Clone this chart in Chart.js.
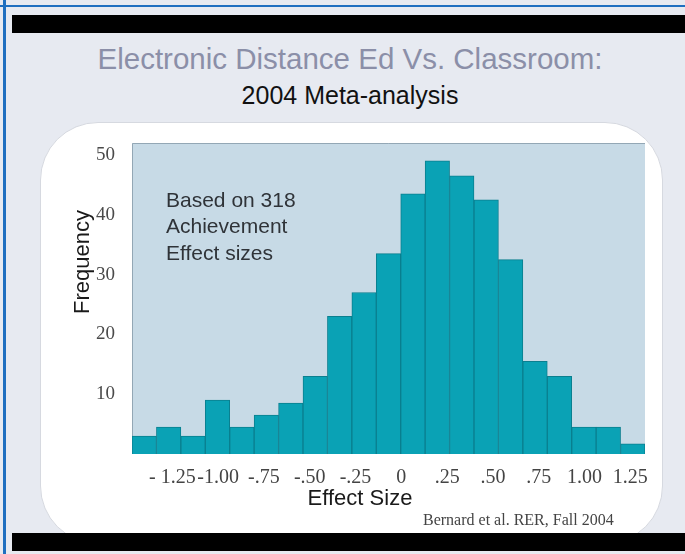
<!DOCTYPE html>
<html>
<head>
<meta charset="utf-8">
<script src="https://cdn.jsdelivr.net/npm/chart.js@4"></script>
<style>
  html, body { margin: 0; padding: 0; }
  body { width: 685px; height: 554px; background: #e7eaf1; position: relative; overflow: hidden; font-family: "Liberation Sans", Arial, sans-serif; }
  .edge-left { position: absolute; left: 3px; top: 0; width: 3px; height: 554px; background: #1f6fc0; }
  .edge-top { position: absolute; left: 0; top: 5px; width: 685px; height: 2px; background: #1f6fc0; }
  .black { position: absolute; left: 12px; width: 673px; height: 18px; background: #000; }
  .title1 { position: absolute; left: 0; width: 700px; top: 42px; text-align: center; font-size: 29.5px; color: #8b8fa8; line-height: 34px; }
  .title2 { position: absolute; left: 0; width: 700px; top: 79px; text-align: center; font-size: 25px; color: #111; line-height: 32px; }
  .card { position: absolute; left: 40px; top: 122px; width: 621px; height: 420px; background: #fff; border: 1px solid #d6d9e0; border-radius: 58px; }
  #chart { position: absolute; left: 0; top: 0; }
</style>
</head>
<body>
<div class="edge-left"></div>
<div class="edge-top"></div>
<div class="black" style="top:15px"></div>
<div class="title1">Electronic Distance Ed Vs. Classroom:</div>
<div class="title2">2004 Meta-analysis</div>
<div class="card"></div>
<div class="black" style="top:533px"></div>
<canvas id="chart" width="685" height="554"></canvas>
<script>
// histogram bins (21 bars)
const bins = ['1','2','3','4','5','6','7','8','9','10','11','12','13','14','15','16','17','18','19','20','21'];
const frequency = [3, 4.5, 3, 9, 4.5, 6.5, 8.5, 13, 23, 27, 33.5, 43.5, 49, 46.5, 42.5, 32.5, 15.5, 13, 4.5, 4.5, 1.7];

// effect size axis
const xTickValues = [-1.25, -1.00, -0.75, -0.50, -0.25, 0, 0.25, 0.50, 0.75, 1.00, 1.25];
const xTickLabels = ['- 1.25', '-1.00', '-.75', '-.50', '-.25', '0', '.25', '.50', '.75', '1.00', '1.25'];
const yTickValues = [10, 20, 30, 40, 50];

const noteLines = ['Based on 318', 'Achievement', 'Effect sizes'];
const source = 'Bernard et al. RER, Fall 2004';

const serif = '"Liberation Serif", "Times New Roman", serif';
const sans = '"Liberation Sans", Arial, sans-serif';

const decor = {
  id: 'decor',
  beforeDatasetsDraw(chart) {
    const { ctx, chartArea: a } = chart;
    ctx.save();
    ctx.fillStyle = '#c7dae6';
    ctx.fillRect(a.left, a.top, a.right - a.left, a.bottom - a.top);
    ctx.strokeStyle = '#93a7b5';
    ctx.lineWidth = 1;
    ctx.beginPath();
    ctx.moveTo(a.left + 0.5, a.bottom);
    ctx.lineTo(a.left + 0.5, a.top + 0.5);
    ctx.lineTo(a.right, a.top + 0.5);
    ctx.stroke();
    ctx.restore();
  },
  afterDraw(chart) {
    const { ctx } = chart;
    ctx.save();
    // note inside plot
    ctx.fillStyle = '#2f3338';
    ctx.font = '21px ' + sans;
    ctx.textBaseline = 'middle';
    noteLines.forEach((t, i) => ctx.fillText(t, 166, 201 + i * 26.5));
    // axis titles
    ctx.fillStyle = '#1a1a1a';
    ctx.font = '22px ' + sans;
    ctx.textAlign = 'center';
    ctx.fillText('Effect Size', 360, 499);
    ctx.save();
    ctx.translate(83, 262);
    ctx.rotate(-Math.PI / 2);
    ctx.fillText('Frequency', 0, 0);
    ctx.restore();
    // source
    ctx.fillStyle = '#444';
    ctx.font = '16px ' + serif;
    ctx.textAlign = 'left';
    ctx.fillText(source, 423, 521);
    ctx.restore();
  }
};

new Chart(document.getElementById('chart'), {
  type: 'bar',
  data: {
    labels: bins,
    datasets: [{
      data: frequency,
      backgroundColor: '#0aa2b5',
      borderColor: '#0a7f8f',
      borderWidth: 1,
      barPercentage: 1,
      categoryPercentage: 1
    }]
  },
  options: {
    responsive: false,
    animation: false,
    layout: { padding: { left: 0, top: 143, right: 40, bottom: 0 } },
    plugins: { legend: { display: false }, tooltip: { enabled: false } },
    scales: {
      x: { display: false },
      x2: {
        type: 'linear',
        position: 'bottom',
        offset: false,
        min: -1.47,
        max: 1.33,
        grid: { display: false, offset: false },
        border: { display: false },
        afterBuildTicks: axis => { axis.ticks = xTickValues.map(v => ({ value: v })); },
        afterFit: axis => { axis.height = 100; },
        ticks: {
          padding: 4,
          color: '#444',
          font: { family: serif, size: 20 },
          maxRotation: 0,
          autoSkip: false,
          callback: v => xTickLabels[xTickValues.indexOf(v)]
        }
      },
      y: {
        min: 0,
        max: 52,
        grid: { display: false },
        border: { display: false },
        afterBuildTicks: axis => { axis.ticks = yTickValues.map(v => ({ value: v })); },
        afterFit: axis => { axis.width = 132; },
        ticks: {
          padding: 9,
          color: '#4a4a4a',
          font: { family: serif, size: 19 }
        }
      }
    }
  },
  plugins: [decor]
});
</script>
</body>
</html>
